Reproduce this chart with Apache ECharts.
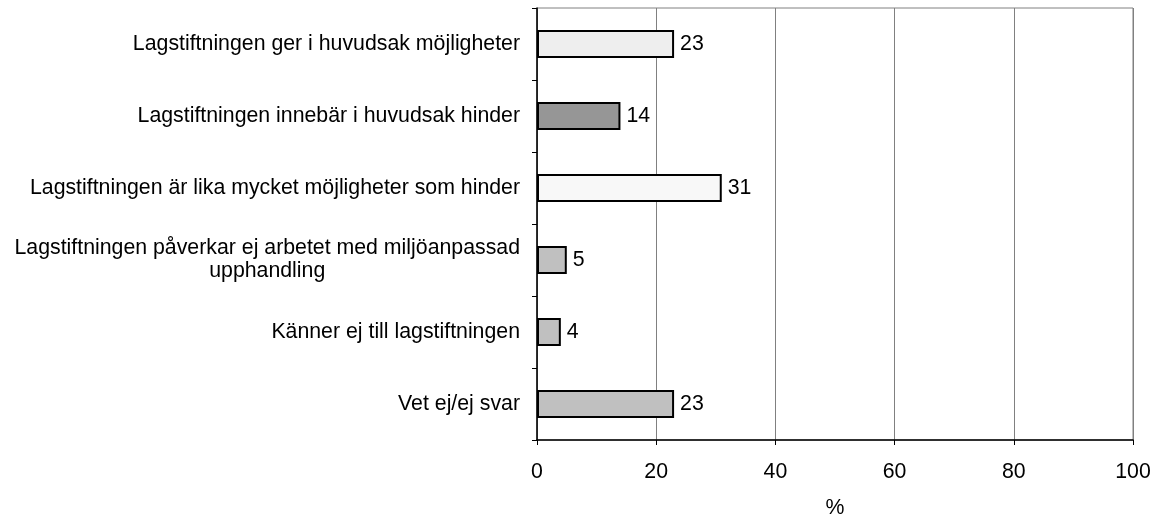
<!DOCTYPE html>
<html><head><meta charset="utf-8">
<script src="https://cdn.jsdelivr.net/npm/echarts@6/dist/echarts.min.js"></script>
<style>html,body{margin:0;padding:0;background:#fff}#c{width:1155px;height:517px}</style>
</head><body><div id="c"></div>
<script>
const categories = [
  'Lagstiftningen ger i huvudsak möjligheter',
  'Lagstiftningen innebär i huvudsak hinder',
  'Lagstiftningen är lika mycket möjligheter som hinder',
  'Lagstiftningen påverkar ej arbetet med miljöanpassad\nupphandling',
  'Känner ej till lagstiftningen',
  'Vet ej/ej svar'
];
const values = [23, 14, 31, 5, 4, 23];
const barColors = ['#eeeeee', '#969696', '#f8f8f8', '#c0c0c0', '#c0c0c0', '#c0c0c0'];
const xTicks = [0, 20, 40, 60, 80, 100];

const font = 'Liberation Sans, Arial, sans-serif';
const fs = 21.3;
const chart = echarts.init(document.getElementById('c'), null, {renderer: 'canvas'});
chart.setOption({
  animation: false,
  backgroundColor: '#ffffff',
  grid: {left: 537, right: 22, top: 8, bottom: 77, show: true, borderColor: '#808080', borderWidth: 1,
         containLabel: false, outerBoundsMode: 'none'},
  xAxis: {
    type: 'value', min: xTicks[0], max: xTicks[xTicks.length - 1], interval: 20,
    name: '%', nameLocation: 'middle', nameGap: 58,
    nameTextStyle: {fontFamily: font, fontSize: fs, color: '#000'},
    axisLine: {show: true, lineStyle: {color: '#000', width: 1.5}},
    axisTick: {show: true, length: 5, lineStyle: {color: '#000'}},
    axisLabel: {fontFamily: font, fontSize: fs, color: '#000', margin: 22, hideOverlap: false},
    splitLine: {show: true, lineStyle: {color: '#808080', width: 1}}
  },
  yAxis: {
    type: 'category', data: categories, inverse: true,
    axisLine: {show: true, lineStyle: {color: '#000', width: 1.5}},
    axisTick: {show: true, length: 5, alignWithLabel: false, lineStyle: {color: '#000'}},
    axisLabel: {
      fontFamily: font, fontSize: fs, color: '#000', margin: 17, lineHeight: 23, interval: 0,
      formatter: function (v) {
        const parts = v.split('\n');
        return parts.map(p => '{c|' + p + '}').join('\n');
      },
      rich: {c: {fontFamily: font, fontSize: fs, color: '#000', align: 'center', lineHeight: 23}}
    },
    splitLine: {show: false}
  },
  series: [{
    type: 'bar',
    data: values.map((v, i) => ({value: v, itemStyle: {color: barColors[i]}})),
    barWidth: '39%',
    itemStyle: {borderColor: '#000', borderWidth: 2},
    label: {show: true, position: 'right', distance: 6, fontFamily: font, fontSize: fs, color: '#000'}
  }]
});
</script></body></html>
